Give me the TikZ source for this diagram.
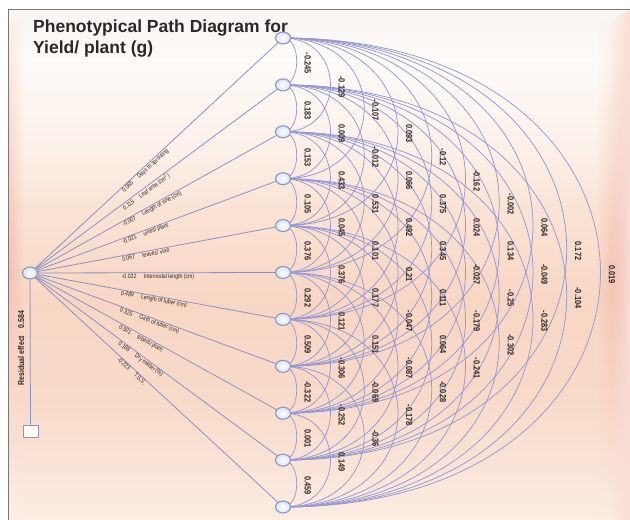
\documentclass[tikz,border=0pt]{standalone}
\usepackage{fontspec}
\setmainfont{Liberation Sans}
\newfontfamily\narrowfont[FakeStretch=0.82]{Liberation Sans}
\usetikzlibrary{shapes.geometric,fadings}
\pgfdeclarelayer{bgpanel}
\pgfdeclarelayer{edges}
\pgfsetlayers{bgpanel,edges,main}
\definecolor{arcline}{RGB}{150,152,214}
\definecolor{legline}{RGB}{140,144,200}
\definecolor{nodeedge}{RGB}{140,150,192}
\definecolor{nodefill}{RGB}{218,226,248}
\definecolor{txt}{RGB}{45,40,40}
\definecolor{ptop}{RGB}{250,246,244}
\definecolor{psixty}{RGB}{254,251,248}
\definecolor{pbase}{RGB}{252,240,232}
\definecolor{ptwo}{RGB}{250,228,214}
\definecolor{pthree}{RGB}{248,214,196}
\definecolor{pfour}{RGB}{248,218,201}
\definecolor{pbot}{RGB}{252,236,226}
\definecolor{bandpink}{RGB}{240,172,156}
\definecolor{bandleft}{RGB}{242,192,178}
\definecolor{framec}{RGB}{120,120,120}
\pgfdeclareverticalshading{panelshade}{100bp}{color(0bp)=(pbot); color(25bp)=(pbot); color(36.7bp)=(pfour); color(46.5bp)=(pthree); color(56bp)=(ptwo); color(61bp)=(pbase); color(70bp)=(psixty); color(74bp)=(ptop); color(75bp)=(ptop); color(100bp)=(ptop)}
\tikzset{
  x=1pt, y=-1pt,
  pnode/.style={ellipse, draw=nodeedge, line width=1.1pt, inner color=white, outer color=nodefill, minimum width=15pt, minimum height=12pt, inner sep=0pt},
  resbox/.style={rectangle, draw=nodeedge, line width=1pt, fill=white, minimum width=15pt, minimum height=12pt, inner sep=0pt},
  arc/.style={draw=arcline, line width=0.75pt},
  leg/.style={draw=legline, line width=0.8pt},
  leglabel/.style={pos=0.35, sloped, anchor=north west, inner sep=0.4pt, font=\fontsize{6.3}{7}\narrowfont, text=txt},
  clabel/.style={rotate=-90, inner sep=0pt, font=\fontsize{9}{10}\narrowfont\bfseries, text=txt},
  titlefont/.style={font=\fontsize{17.5}{21}\selectfont\bfseries, text=txt, inner sep=0pt, anchor=base west}
}
\begin{document}
\begin{tikzpicture}
\useasboundingbox (0,0) rectangle (630,520);
\begin{pgfonlayer}{bgpanel}
  \fill[white] (0,0) rectangle (630,520);
  \shade[shading=panelshade] (8.5,9) rectangle (630,520);
  \shade[top color=pbase, bottom color=pbase, middle color=bandleft, path fading=east] (9,20) rectangle (24,520);
  \shade[top color=pbase, bottom color=pbot, middle color=bandpink, path fading=west] (596,20) rectangle (630,520);
  \fill[bandpink!40, path fading=west] (610,20) -- (630,10) -- (630,520) -- (610,520) -- cycle;
  \draw[framec, line width=1pt] (8.5,520) -- (8.5,9) -- (630,9);
\end{pgfonlayer}

\node[titlefont] (t1) at (33,32) {Phenotypical Path Diagram for};
\node[titlefont] (t2) at (33,53) {Yield/ plant (g)};

\foreach \k in {1,...,11} {
  \node[pnode] (r\k) at (283, {38+46.9*(\k-1)}) {};
}
\node[pnode] (L) at (30,273) {};
\node[resbox] (res) at (30.5,431) {};

\node[rotate=90, font=\fontsize{8.5}{10}\narrowfont\bfseries, text=txt, inner sep=0pt] (resl) at (21,348) {Residual effect\hspace{0.9em}0.584};

\begin{pgfonlayer}{edges}
  \draw[leg, draw=nodeedge] (L) -- (res);
  \foreach \k/\v/\t in {1/0.085/{Days to sprouting}, 2/0.115/{Leaf area (cm\textsuperscript{2})}, 3/-0.007/{Length of vine (cm)}, 4/-0.021/{vines/ plant}, 5/0.067/{leaves/ vine}, 6/-0.022/{Internodal length (cm)}, 7/0.489/{Length of tuber (cm)}, 8/0.325/{Girth of tuber (cm)}, 9/0.501/{tubers/ plant}, 10/0.188/{Dry matter (\%)}, 11/-0.223/{T.S.S.}} {
    \draw[leg] (L) -- (r\k) node[leglabel] {\v\hspace{1.2em}\t};
  }
  \foreach \i/\j/\v in {1/2/-0.245, 2/3/0.183, 3/4/0.153, 4/5/0.105, 5/6/0.376, 6/7/0.292, 7/8/0.509, 8/9/-0.322, 9/10/0.001, 10/11/0.459,
      1/3/-0.129, 2/4/0.009, 3/5/0.433, 4/6/0.045, 5/7/0.376, 6/8/0.121, 7/9/-0.306, 8/10/-0.252, 9/11/0.149,
      1/4/-0.107, 2/5/-0.012, 3/6/0.531, 4/7/0.101, 5/8/0.177, 6/9/0.151, 7/10/-0.069, 8/11/-0.36,
      1/5/0.093, 2/6/0.066, 3/7/0.492, 4/8/0.21, 5/9/-0.047, 6/10/-0.087, 7/11/-0.178,
      1/6/-0.12, 2/7/0.375, 3/8/0.345, 4/9/0.111, 5/10/0.064, 6/11/-0.028,
      1/7/-0.162, 2/8/0.024, 3/9/-0.027, 4/10/-0.179, 5/11/-0.241,
      1/8/-0.002, 2/9/0.134, 3/10/-0.25, 4/11/-0.302,
      1/9/0.064, 2/10/-0.049, 3/11/-0.283,
      1/10/0.172, 2/11/-0.104,
      1/11/0.019} {
    \pgfmathsetmacro\dd{\j-\i}
    \pgfmathsetmacro\cc{45*\dd-26.7}
    \draw[arc] (r\i.center) .. controls +(\cc,0) and +(\cc,0) .. (r\j.center);
  }
\end{pgfonlayer}

\foreach \i/\j/\v in {1/2/-0.245, 2/3/0.183, 3/4/0.153, 4/5/0.105, 5/6/0.376, 6/7/0.292, 7/8/0.509, 8/9/-0.322, 9/10/0.001, 10/11/0.459,
    1/3/-0.129, 2/4/0.009, 3/5/0.433, 4/6/0.045, 5/7/0.376, 6/8/0.121, 7/9/-0.306, 8/10/-0.252, 9/11/0.149,
    1/4/-0.107, 2/5/-0.012, 3/6/0.531, 4/7/0.101, 5/8/0.177, 6/9/0.151, 7/10/-0.069, 8/11/-0.36,
    1/5/0.093, 2/6/0.066, 3/7/0.492, 4/8/0.21, 5/9/-0.047, 6/10/-0.087, 7/11/-0.178,
    1/6/-0.12, 2/7/0.375, 3/8/0.345, 4/9/0.111, 5/10/0.064, 6/11/-0.028,
    1/7/-0.162, 2/8/0.024, 3/9/-0.027, 4/10/-0.179, 5/11/-0.241,
    1/8/-0.002, 2/9/0.134, 3/10/-0.25, 4/11/-0.302,
    1/9/0.064, 2/10/-0.049, 3/11/-0.283,
    1/10/0.172, 2/11/-0.104,
    1/11/0.019} {
  \pgfmathsetmacro\dd{\j-\i}
  \pgfmathsetmacro\lx{274+33.8*\dd}
  \pgfmathsetmacro\ly{38+46.9*(\i+\j-2)/2+2}
  \node[clabel] (c\i-\j) at (\lx,\ly) {\v};
}
\end{tikzpicture}
\end{document}
